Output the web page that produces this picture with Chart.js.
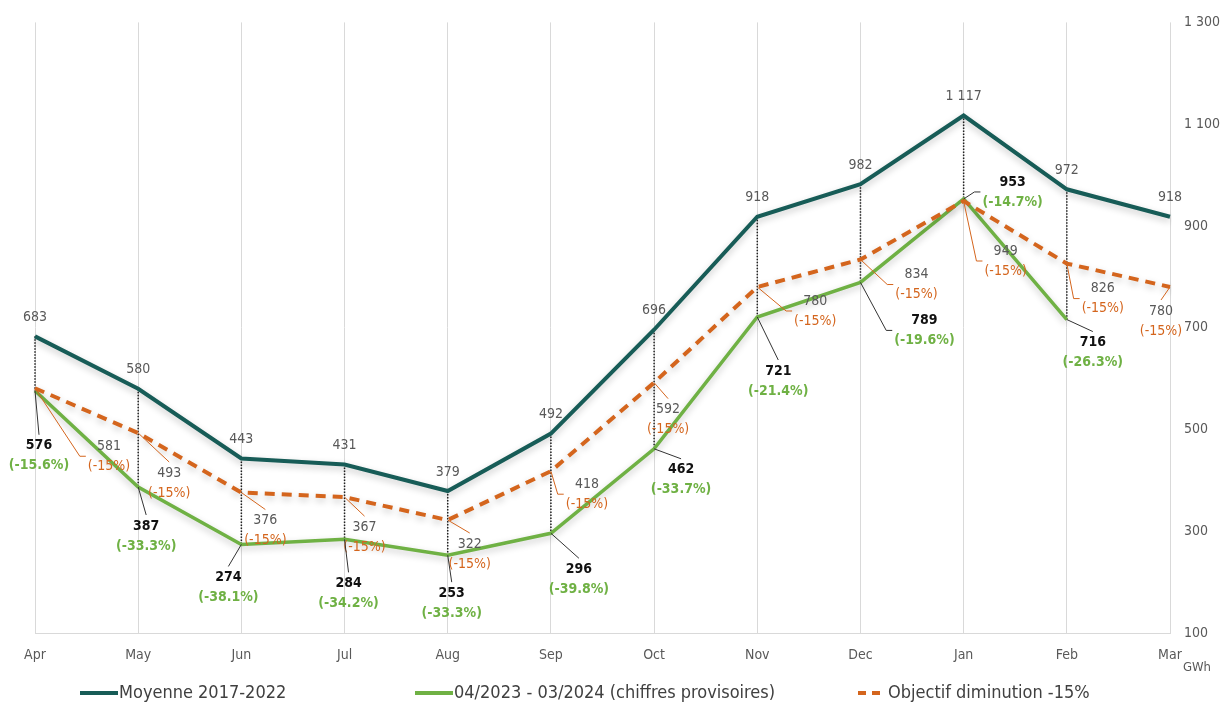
<!DOCTYPE html>
<html>
<head>
<meta charset="utf-8">
<script src="https://cdn.jsdelivr.net/npm/chart.js@4.4.1/dist/chart.umd.min.js"></script>
<style>
  html, body { margin: 0; padding: 0; background: #fff; }
  #wrap { width: 1225px; height: 706px; }
</style>
</head>
<body>
<div id="wrap"><canvas id="graphique" width="1225" height="706"></canvas></div>
<script>
// données
const mois = ['Apr', 'May', 'Jun', 'Jul', 'Aug', 'Sep', 'Oct', 'Nov', 'Dec', 'Jan', 'Feb', 'Mar'];
const moyenne = [683, 580, 443, 431, 379, 492, 696, 918, 982, 1117, 972, 918];
const conso = [576, 387, 274, 284, 253, 296, 462, 721, 789, 953, 716, null];
const objectif = [581, 493, 376, 367, 322, 418, 592, 780, 834, 949, 826, 780];
const ecartConso = ['-15.6%', '-33.3%', '-38.1%', '-34.2%', '-33.3%', '-39.8%', '-33.7%', '-21.4%', '-19.6%', '-14.7%', '-26.3%'];
const ecartObjectif = ['-15%', '-15%', '-15%', '-15%', '-15%', '-15%', '-15%', '-15%', '-15%', '-15%', '-15%', '-15%'];
const yTicks = [100, 300, 500, 700, 900, 1100, 1300];

const FONT = '"DejaVu Sans Condensed", "Liberation Sans Narrow", sans-serif';
const C_MOY = '#175c57';
const C_CONSO = '#6fb144';
const C_OBJ = '#d4651d';
const GRIS = '#595959';

// décalage des étiquettes par rapport au point (dx, dy, ancrage de la ligne de rappel)
const posConso = [[4, 55, 't'], [8, 39, 't'], [-13, 33, 't'], [4, 44, 't'], [4, 38, 't'], [28, 36, 't'],
  [27, 21, 't'], [21, 54, 't'], [64, 38, 'l'], [49, -17, 'l'], [26, 23, 't']];
const posObjectif = [[74, 58, 'l'], [31, 40, 't'], [24, 28, 't'], [20, 30, 't'], [22, 24, 't'], [36, 13, 'l'],
  [14, 27, 't'], [58, 14, 'l'], [56, 15, 'l'], [42, 50, 'l'], [36, 25, 'l'], [-9, 24, 't']];

Chart.defaults.font.family = FONT;
Chart.defaults.color = GRIS;

const fmt = v => String(v).replace(/\B(?=(\d{3})+(?!\d))/g, ' ');

const ombre = {
  id: 'ombre',
  beforeDatasetDraw(chart) {
    const ctx = chart.ctx;
    ctx.save();
    ctx.shadowColor = 'rgba(0,0,0,0.22)';
    ctx.shadowBlur = 7;
    ctx.shadowOffsetY = 3;
  },
  afterDatasetDraw(chart) {
    chart.ctx.restore();
  }
};

// légende dessinée à la main (écarts de l'original)
const legende = {
  id: 'legende',
  afterDraw(chart) {
    const ctx = chart.ctx;
    const y = 693;
    const debuts = [80, 415, 858];
    ctx.save();
    ctx.font = '18px ' + FONT;
    ctx.textBaseline = 'middle';
    ctx.textAlign = 'left';
    chart.data.datasets.forEach((d, i) => {
      const x = debuts[i];
      const long = d.borderDash ? 22 : 38;
      ctx.strokeStyle = d.borderColor;
      ctx.lineWidth = 4;
      ctx.setLineDash(d.borderDash ? [8, 6] : []);
      ctx.beginPath();
      ctx.moveTo(x, y);
      ctx.lineTo(x + long, y);
      ctx.stroke();
      ctx.fillStyle = '#404040';
      ctx.fillText(d.label, x + long + (d.borderDash ? 8 : 1), y);
    });
    ctx.restore();
  }
};

const etiquettes = {
  id: 'etiquettes',
  beforeDatasetsDraw(chart) {
    // lignes haut-bas pointillées
    const ctx = chart.ctx;
    const mMoy = chart.getDatasetMeta(0).data;
    const mCon = chart.getDatasetMeta(1).data;
    const mObj = chart.getDatasetMeta(2).data;
    ctx.save();
    ctx.strokeStyle = '#222';
    ctx.lineWidth = 1.5;
    ctx.setLineDash([1.5, 1.5]);
    mois.forEach((m, i) => {
      if (conso[i] == null) return;
      const bas = Math.max(mCon[i].y, mObj[i].y);
      ctx.beginPath();
      ctx.moveTo(mMoy[i].x, mMoy[i].y);
      ctx.lineTo(mMoy[i].x, bas);
      ctx.stroke();
    });
    ctx.restore();
  },
  afterDatasetsDraw(chart) {
    const ctx = chart.ctx;
    const mMoy = chart.getDatasetMeta(0).data;
    const mCon = chart.getDatasetMeta(1).data;
    const mObj = chart.getDatasetMeta(2).data;
    ctx.save();
    ctx.textAlign = 'center';
    ctx.textBaseline = 'middle';

    // moyenne
    ctx.font = '14px ' + FONT;
    ctx.fillStyle = GRIS;
    mMoy.forEach((p, i) => ctx.fillText(fmt(moyenne[i]), p.x, p.y - 19));

    const bloc = (p, pos, txt1, font1, col1, txt2, font2, col2, colLigne) => {
      const cx = p.x + pos[0];
      const cy = p.y + pos[1];
      ctx.font = font1;
      const w1 = ctx.measureText(txt1).width;
      ctx.font = font2;
      const w2 = ctx.measureText(txt2).width;
      const w = Math.max(w1, w2);
      ctx.strokeStyle = colLigne;
      ctx.lineWidth = 1;
      ctx.setLineDash([]);
      ctx.beginPath();
      if (pos[2] === 'l') {
        const gauche = cx - w / 2;
        const mil = cy + 10;
        ctx.moveTo(p.x, p.y);
        ctx.lineTo(gauche - 8, mil);
        ctx.lineTo(gauche - 2, mil);
      } else {
        ctx.moveTo(p.x, p.y);
        ctx.lineTo(cx, pos[1] > 0 ? cy - 11 : cy + 31);
      }
      ctx.stroke();
      ctx.font = font1;
      ctx.fillStyle = col1;
      ctx.fillText(txt1, cx, cy);
      ctx.font = font2;
      ctx.fillStyle = col2;
      ctx.fillText(txt2, cx, cy + 20);
    };

    mObj.forEach((p, i) => {
      bloc(p, posObjectif[i], fmt(objectif[i]), '14px ' + FONT, GRIS,
        '(' + ecartObjectif[i] + ')', '14px ' + FONT, C_OBJ, C_OBJ);
    });
    mCon.forEach((p, i) => {
      if (conso[i] == null) return;
      bloc(p, posConso[i], fmt(conso[i]), 'bold 14px ' + FONT, '#111',
        '(' + ecartConso[i] + ')', 'bold 14px ' + FONT, C_CONSO, '#333');
    });

    // unité
    ctx.font = '13px ' + FONT;
    ctx.fillStyle = GRIS;
    ctx.fillText('GWh', chart.chartArea.right + 27, chart.chartArea.bottom + 35);
    ctx.restore();
  }
};

new Chart(document.getElementById('graphique'), {
  type: 'line',
  data: {
    labels: mois,
    datasets: [{
      label: 'Moyenne 2017-2022',
      data: moyenne,
      borderColor: C_MOY,
      backgroundColor: C_MOY,
      borderWidth: 4,
      pointRadius: 0,
      order: 2
    }, {
      label: '04/2023 - 03/2024 (chiffres provisoires)',
      data: conso,
      borderColor: C_CONSO,
      backgroundColor: C_CONSO,
      borderWidth: 3.5,
      pointRadius: 0,
      order: 1
    }, {
      label: 'Objectif diminution -15%',
      data: objectif,
      borderColor: C_OBJ,
      backgroundColor: C_OBJ,
      borderWidth: 4,
      borderDash: [10, 7],
      pointRadius: 0,
      order: 0
    }]
  },
  options: {
    responsive: false,
    animation: false,
    layout: { padding: { left: 35, right: 0, top: 22, bottom: 37 } },
    plugins: {
      tooltip: { enabled: false },
      legend: { display: false }
    },
    scales: {
      x: {
        offset: false,
        grid: { color: '#d9d9d9', drawTicks: false },
        border: { color: '#d9d9d9' },
        ticks: { padding: 14, font: { size: 14 }, color: GRIS },
        afterFit: s => { s.height = 36; }
      },
      y: {
        position: 'right',
        min: 100,
        max: 1300,
        afterBuildTicks: s => { s.ticks = yTicks.map(v => ({ value: v })); },
        afterFit: s => { s.width = 55; },
        grid: { display: false, drawTicks: false },
        border: { display: false },
        ticks: { padding: 14, font: { size: 14 }, color: GRIS, callback: v => fmt(v) }
      }
    }
  },
  plugins: [ombre, legende, etiquettes]
});
</script>
</body>
</html>
